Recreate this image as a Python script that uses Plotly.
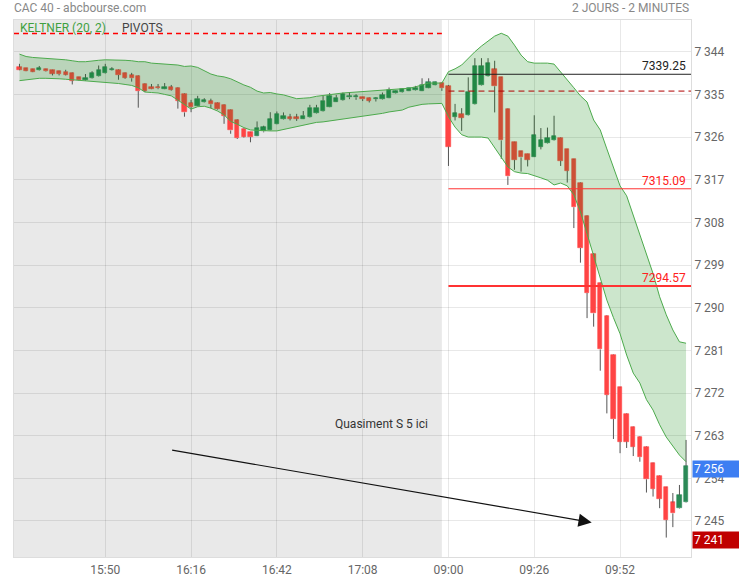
import plotly.graph_objects as go
from datetime import datetime, timedelta

# ---------------- data ----------------
PREV_START, PREV_END = "15:24", "17:32"
NEW_START, NEW_END = "09:00", "10:12"
STEP_MIN = 2

PREV_OPEN = [7340.75, 7340.5, 7340.3, 7340.1, 7340.3, 7340.1, 7339.9, 7339.8, 7339.5, 7338.6,
             7338.1, 7338.4, 7338.8, 7339.5, 7340.1, 7340.2, 7339.5, 7339.1, 7338.9, 7337.2,
             7336.6, 7336.6, 7336.2, 7336.6, 7336.4, 7335.1, 7333.2, 7332.65, 7333.3, 7333.6,
             7333.2, 7332.8, 7331.7, 7329.6, 7327.7, 7327.0, 7326.3, 7327.2, 7327.5, 7328.8,
             7329.8, 7330.2, 7330.2, 7329.9, 7330.2, 7331.0, 7331.5, 7332.4, 7333.5, 7333.85,
             7334.4, 7334.4, 7334.4, 7334.3, 7334.0, 7334.0, 7334.3, 7335.2, 7335.5, 7335.8,
             7335.9, 7335.8, 7336.45, 7336.95, 7337.4]
PREV_HIGH = [7341.45, 7340.6, 7340.4, 7341.0, 7340.4, 7340.2, 7340.0, 7340.2, 7339.6, 7338.7,
             7339.3, 7339.9, 7341.1, 7341.45, 7340.75, 7340.3, 7339.6, 7339.55, 7339.0, 7337.3,
             7337.2, 7337.2, 7337.4, 7337.0, 7336.5, 7335.2, 7333.85, 7334.7, 7334.2, 7334.1,
             7333.3, 7332.9, 7331.8, 7329.7, 7327.8, 7327.1, 7329.3, 7328.4, 7331.25, 7331.4,
             7331.2, 7330.9, 7330.9, 7331.5, 7332.8, 7332.8, 7334.7, 7335.3, 7334.9, 7335.4,
             7335.5, 7335.05, 7334.5, 7334.4, 7334.4, 7335.4, 7336.45, 7335.9, 7336.3, 7336.4,
             7336.8, 7338.4, 7338.4, 7337.7, 7337.5]
PREV_LOW = [7340.1, 7339.9, 7339.7, 7340.0, 7339.8, 7339.0, 7339.0, 7339.0, 7337.1, 7337.9,
            7337.9, 7338.3, 7338.7, 7339.4, 7340.0, 7338.1, 7338.3, 7337.7, 7332.2, 7335.5,
            7336.1, 7336.1, 7336.1, 7335.8, 7332.0, 7330.3, 7331.25, 7332.5, 7333.2, 7332.1,
            7331.8, 7328.8, 7326.7, 7325.6, 7325.9, 7324.9, 7326.2, 7327.0, 7327.4, 7328.7,
            7329.7, 7329.5, 7329.4, 7329.8, 7330.1, 7330.9, 7331.4, 7332.3, 7333.4, 7333.7,
            7334.0, 7333.85, 7333.6, 7333.3, 7333.5, 7333.9, 7334.2, 7335.1, 7335.4, 7335.7,
            7335.8, 7335.7, 7336.3, 7336.9, 7335.75]
PREV_CLOSE = [7340.25, 7340.0, 7339.8, 7340.6, 7339.9, 7339.4, 7339.3, 7339.2, 7337.9, 7338.0,
              7338.5, 7339.5, 7340.2, 7340.8, 7340.3, 7339.1, 7338.55, 7338.4, 7335.7, 7335.8,
              7336.2, 7336.3, 7336.6, 7336.0, 7333.7, 7331.2, 7332.3, 7334.1, 7333.85, 7332.9,
              7331.95, 7330.5, 7327.4, 7325.8, 7326.1, 7326.0, 7328.0, 7328.1, 7329.8, 7330.9,
              7330.5, 7329.9, 7329.9, 7330.55, 7332.2, 7332.2, 7333.7, 7334.7, 7334.3, 7335.05,
              7334.7, 7334.6, 7334.0, 7333.7, 7334.2, 7334.9, 7335.96, 7335.8, 7336.2, 7336.3,
              7336.4, 7337.0, 7337.6, 7337.6, 7336.3]

NEW_OPEN = [7336.8, 7330.3, 7330.9, 7330.6, 7332.9, 7336.9, 7338.8, 7340.3, 7338.6, 7331.9,
            7324.9, 7323.0, 7322.45, 7321.9, 7324.0, 7324.7, 7325.3, 7325.8, 7323.45, 7321.3,
            7316.4, 7309.4, 7301.35, 7295.2, 7288.3, 7280.0, 7273.2, 7267.6, 7264.8, 7262.8,
            7260.7, 7257.2, 7254.5, 7252.1, 7248.9, 7247.7, 7248.9]
NEW_HIGH = [7337.0, 7333.0, 7332.1, 7338.6, 7342.65, 7342.65, 7342.65, 7342.1, 7338.7, 7332.0,
            7325.0, 7323.1, 7322.5, 7330.6, 7327.9, 7328.0, 7330.5, 7325.9, 7323.5, 7321.4,
            7316.5, 7309.5, 7301.5, 7295.3, 7288.4, 7280.1, 7273.3, 7267.7, 7264.9, 7262.9,
            7260.8, 7257.3, 7254.6, 7252.2, 7250.9, 7252.6, 7262.1]
NEW_LOW = [7319.9, 7329.5, 7327.3, 7330.5, 7332.8, 7336.8, 7338.7, 7331.2, 7321.4, 7315.9,
           7319.1, 7318.7, 7319.8, 7321.8, 7323.4, 7324.6, 7325.2, 7319.9, 7316.4, 7306.8,
           7299.5, 7287.8, 7286.0, 7276.7, 7267.7, 7262.3, 7259.3, 7260.4, 7258.7, 7257.5,
           7251.0, 7250.15, 7247.7, 7241.5, 7243.7, 7247.6, 7248.8]
NEW_CLOSE = [7324.0, 7331.0, 7330.1, 7335.6, 7341.0, 7341.0, 7341.6, 7336.7, 7325.3, 7317.7,
             7321.2, 7321.7, 7321.25, 7326.4, 7325.4, 7325.8, 7326.25, 7321.0, 7318.9, 7311.2,
             7302.6, 7293.1, 7288.8, 7281.2, 7271.6, 7266.5, 7261.75, 7261.75, 7260.7, 7258.45,
             7253.8, 7251.8, 7249.7, 7245.2, 7246.6, 7250.4, 7256.6]

KELTNER_UPPER = [7343.5, 7343.0, 7342.8, 7342.7, 7342.6, 7342.6, 7342.5, 7342.3, 7342.1, 7341.9,
                 7341.9, 7342.1, 7342.2, 7342.3, 7342.3, 7342.2, 7342.2, 7342.1, 7341.9, 7341.9,
                 7341.6, 7341.5, 7341.4, 7341.3, 7341.2, 7340.9, 7341.0, 7340.7, 7340.0, 7339.3,
                 7338.9, 7338.7, 7338.3, 7337.6, 7337.0, 7336.5, 7335.7, 7335.3, 7335.4, 7335.1,
                 7334.9, 7334.5, 7334.1, 7334.2, 7334.3, 7334.6, 7334.8, 7335.0, 7335.1, 7335.3,
                 7335.4, 7335.5, 7335.6, 7335.6, 7335.7, 7335.8, 7335.9, 7336.0, 7336.2, 7336.3,
                 7336.6, 7337.0, 7337.4, 7337.4, 7337.4,
                 7339.8, 7340.4, 7341.2, 7342.7, 7344.0, 7345.2, 7346.3, 7347.3, 7347.9, 7347.3,
                 7345.4, 7343.3, 7341.9, 7341.6, 7341.6, 7341.6, 7341.4, 7339.8, 7338.1, 7336.4,
                 7334.7, 7333.4, 7329.6, 7327.5, 7323.5, 7319.7, 7315.7, 7313.6, 7309.4, 7305.6,
                 7301.4, 7297.2, 7292.3, 7288.5, 7285.3, 7282.8, 7282.5]
KELTNER_LOWER = [7337.9, 7338.1, 7338.3, 7338.4, 7338.4, 7338.4, 7338.3, 7338.2, 7338.1, 7337.9,
                 7337.9, 7337.7, 7337.6, 7337.6, 7337.4, 7337.3, 7337.1, 7336.9, 7336.4, 7335.5,
                 7335.4, 7335.3, 7335.0, 7334.7, 7333.8, 7332.8, 7331.9, 7332.4, 7332.5, 7332.1,
                 7331.5, 7330.7, 7329.3, 7328.7, 7328.0, 7327.5, 7327.4, 7327.3, 7327.3, 7327.3,
                 7327.6, 7327.9, 7328.2, 7328.5, 7328.8, 7329.1, 7329.2, 7329.4, 7329.6, 7329.8,
                 7330.0, 7330.2, 7330.3, 7330.6, 7330.8, 7331.0, 7331.3, 7331.5, 7331.7, 7332.3,
                 7332.6, 7332.9, 7333.0, 7333.1, 7333.1,
                 7330.3, 7328.1, 7326.5, 7326.0, 7326.0, 7326.0, 7325.8, 7323.7, 7321.6, 7319.7,
                 7318.7, 7318.4, 7318.3, 7317.9, 7317.4, 7316.9, 7315.9, 7316.3, 7315.7, 7313.8,
                 7310.2, 7305.6, 7301.1, 7296.5, 7291.6, 7287.9, 7284.5, 7280.0, 7276.2, 7274.1,
                 7270.6, 7268.4, 7265.3, 7262.7, 7260.8, 7258.9, 7257.5]

PREV_PIVOT = 7347.85
NEW_PIVOTS = [7339.25, 7335.7, 7315.09, 7294.57]
NEW_PIVOT_SHOW_LABEL = [True, False, True, True]

LAST_PRICE = 7256
LOW_PRICE = 7241

TICK_LABELS = ["15:50", "16:16", "16:42", "17:08", "09:00", "09:26", "09:52"]
Y_TICKS = list(range(7245, 7345, 9))

NOTE_TEXT = "Quasiment S 5 ici"

# ---------------- derived ----------------
def time_range(a, b, step):
    t = datetime.strptime(a, "%H:%M")
    e = datetime.strptime(b, "%H:%M")
    out = []
    while t <= e:
        out.append(t.strftime("%H:%M"))
        t += timedelta(minutes=step)
    return out

TIMES = time_range(PREV_START, PREV_END, STEP_MIN) + time_range(NEW_START, NEW_END, STEP_MIN)
OPEN = PREV_OPEN + NEW_OPEN
HIGH = PREV_HIGH + NEW_HIGH
LOW = PREV_LOW + NEW_LOW
CLOSE = PREV_CLOSE + NEW_CLOSE
N = len(TIMES)
IDX = list(range(N))
LAST_PREV = len(PREV_OPEN) - 1
FIRST_NEW = TIMES.index(NEW_START)

XMIN, XMAX = -0.83, N - 0.25
YMIN, YMAX = 7237.4, 7350.7

RED = "#ff4444"
GREEN = "#2b8a57"
WICK = "#555555"

colors = [GREEN if c >= o else RED for o, c in zip(OPEN, CLOSE)]
bases = [min(o, c) for o, c in zip(OPEN, CLOSE)]
heights = [abs(c - o) for o, c in zip(OPEN, CLOSE)]

wx, wy = [], []
for i in IDX:
    top, bot = max(OPEN[i], CLOSE[i]), min(OPEN[i], CLOSE[i])
    wx += [i, i, None, i, i, None]
    wy += [HIGH[i], top, None, bot, LOW[i], None]

fig = go.Figure()
fig.add_trace(go.Bar(x=IDX, y=heights, base=bases, width=0.66,
                     marker=dict(color=colors, line=dict(color=colors, width=0.6)),
                     hoverinfo="skip", showlegend=False))
fig.add_trace(go.Scatter(x=wx, y=wy, mode="lines", line=dict(color=WICK, width=1),
                         hoverinfo="skip", showlegend=False))
fig.add_trace(go.Scatter(x=IDX, y=KELTNER_LOWER, mode="lines",
                         line=dict(color="#4caa4c", width=1), hoverinfo="skip", showlegend=False))
fig.add_trace(go.Scatter(x=IDX, y=KELTNER_UPPER, mode="lines", fill="tonexty",
                         fillcolor="rgba(0,128,0,0.2)",
                         line=dict(color="#4caa4c", width=1), hoverinfo="skip", showlegend=False))
# previous-day pivot line (red dashed)
fig.add_trace(go.Scatter(x=[XMIN, LAST_PREV], y=[PREV_PIVOT, PREV_PIVOT], mode="lines",
                         line=dict(color="#ff0000", width=1.5, dash="5px,4px"),
                         hoverinfo="skip", showlegend=False))

shapes = [
    dict(type="rect", xref="x", yref="paper", x0=XMIN, x1=LAST_PREV, y0=0, y1=1,
         fillcolor="#e9e9e9", line=dict(width=0), layer="below"),
]
pivot_styles = [
    dict(color="#222222", width=1),
    dict(color="#b00000", width=1, dash="6px,4px"),
    dict(color="#ff3333", width=1),
    dict(color="#ff3333", width=2),
]
label_colors = ["#222222", "#b00000", "#ff2020", "#ff2020"]
annotations = []
for val, st, show, lc in zip(NEW_PIVOTS, pivot_styles, NEW_PIVOT_SHOW_LABEL, label_colors):
    shapes.append(dict(type="line", xref="x", yref="y", x0=FIRST_NEW, x1=XMAX, y0=val, y1=val,
                       line=st, layer="above"))
    if show:
        annotations.append(dict(xref="paper", yref="y", x=0.995, y=val, xanchor="right",
                                yanchor="bottom", yshift=-1, text=f"{val:.2f}", showarrow=False,
                                font=dict(size=12, color=lc)))

# price boxes
annotations.append(dict(xref="paper", yref="y", x=1, y=LAST_PRICE, xanchor="left", yanchor="middle",
                        xshift=1, text=f"{LAST_PRICE:,}".replace(",", " "), showarrow=False,
                        bgcolor="#3d7ef2", font=dict(size=12, color="white"), width=44,
                        align="left", borderpad=1))
annotations.append(dict(xref="paper", yref="y", x=1, y=LOW_PRICE, xanchor="left", yanchor="middle",
                        xshift=1, text=f"{LOW_PRICE:,}".replace(",", " "), showarrow=False,
                        bgcolor="#c00000", font=dict(size=12, color="white"), width=44,
                        align="left", borderpad=1))

# header texts
annotations.append(dict(xref="paper", yref="paper", x=0, y=1.0223, xanchor="left", yanchor="middle",
                        text="CAC 40 - abcbourse.com", showarrow=False, xshift=-2,
                        font=dict(size=12, color="#888888")))
annotations.append(dict(xref="paper", yref="paper", x=1, y=1.0223, xanchor="right", yanchor="middle",
                        text="2 JOURS - 2 MINUTES", showarrow=False,
                        font=dict(size=12, color="#888888")))
annotations.append(dict(xref="paper", yref="paper", x=0.0059, y=0.985, xanchor="left", yanchor="middle",
                        text="KELTNER (20, 2)", showarrow=False, xshift=0,
                        font=dict(size=12, color="#3fa03f")))
annotations.append(dict(xref="paper", yref="paper", x=0.1566, y=0.985, xanchor="left", yanchor="middle",
                        text="PIVOTS", showarrow=False,
                        font=dict(size=12, color="#444444")))

# note + arrow
NOTE_POS = (54.9, 7265.5)
ARROW_TAIL = (22.9, 7260.0)
ARROW_HEAD = (86.7, 7244.7)
annotations.append(dict(xref="x", yref="y", x=NOTE_POS[0], y=NOTE_POS[1], text=NOTE_TEXT,
                        showarrow=False, font=dict(size=12, color="#333333")))
annotations.append(dict(xref="x", yref="y", axref="x", ayref="y",
                        x=ARROW_HEAD[0], y=ARROW_HEAD[1], ax=ARROW_TAIL[0], ay=ARROW_TAIL[1],
                        text="", showarrow=True, arrowhead=2, arrowsize=2.2, arrowwidth=1.2,
                        arrowcolor="#111111", standoff=0))

fig.update_layout(
    width=739, height=580,
    margin=dict(l=14, r=48, t=20, b=23, autoexpand=False),
    paper_bgcolor="white", plot_bgcolor="white",
    font=dict(family="Roboto, Arial, sans-serif", size=12, color="#666666"),
    shapes=shapes, annotations=annotations,
    showlegend=False, bargap=0,
    xaxis=dict(range=[XMIN, XMAX], tickvals=[TIMES.index(t) for t in TICK_LABELS],
               ticktext=TICK_LABELS, showgrid=True, gridcolor="rgba(0,0,0,0.09)", gridwidth=1,
               zeroline=False, showline=True, linecolor="#dddddd", mirror=True, automargin=False,
               ticks="", ticklabelstandoff=2, tickfont=dict(size=12, color="#666666"),
               fixedrange=True),
    yaxis=dict(range=[YMIN, YMAX], side="right", tickvals=Y_TICKS,
               ticktext=[f"{v:,}".replace(",", " ") for v in Y_TICKS], automargin=False,
               showgrid=True, gridcolor="rgba(0,0,0,0.09)", gridwidth=1, zeroline=False,
               showline=True, linecolor="#dddddd", mirror=True, ticks="",
               tickfont=dict(size=12, color="#666666"), fixedrange=True),
)

fig.write_html("out.html", config={"displayModeBar": False},
               post_script="document.body.style.margin='0';document.body.style.overflow='hidden';")
